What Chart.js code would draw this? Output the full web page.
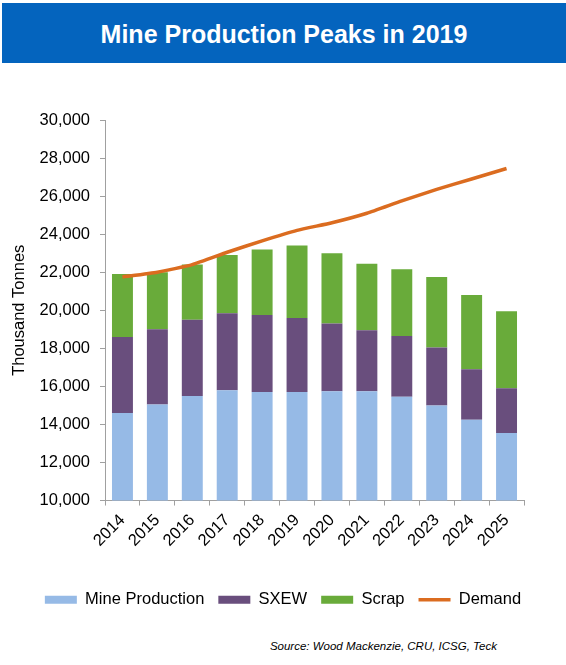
<!DOCTYPE html>
<html>
<head>
<meta charset="utf-8">
<script src="https://cdn.jsdelivr.net/npm/chart.js@4.4.1/dist/chart.umd.min.js"></script>
<style>
  body { margin: 0; background: #fff; font-family: "Liberation Sans", Arial, sans-serif; }
  #banner {
    position: absolute; left: 2px; top: 3px; width: 564px; height: 60px;
    background: #0464be; color: #fff; font-weight: bold; font-size: 25px;
    text-align: center; line-height: 62px;
  }
  #wrap { position: absolute; left: 0; top: 70px; width: 566px; height: 558px; }
  #source {
    position: absolute; right: 69px; top: 640px; font-size: 11.5px;
    font-style: italic; color: #000;
  }
</style>
</head>
<body>
<div id="banner">Mine Production Peaks in 2019</div>
<div id="wrap"><canvas id="chart" width="566" height="558"></canvas></div>
<div id="source">Source: Wood Mackenzie, CRU, ICSG, Teck</div>
<script>
// Values (thousand tonnes)
const years = ['2014', '2015', '2016', '2017', '2018', '2019', '2020', '2021', '2022', '2023', '2024', '2025'];
const mineProduction = [14600, 15050, 15500, 15800, 15700, 15700, 15750, 15750, 15450, 15000, 14250, 13550];
const sxew = [4000, 3950, 4000, 4050, 4050, 3900, 3550, 3200, 3200, 3050, 2650, 2350];
const scrap = [3300, 3000, 2900, 3050, 3450, 3800, 3700, 3500, 3500, 3700, 3900, 4050];
const demand = [21750, 22000, 22400, 23050, 23650, 24200, 24600, 25100, 25750, 26350, 26900, 27450];

const FONT = "'Liberation Sans', Arial, sans-serif";
const axisGrey = '#a0a0a0';

// legend is centred on the whole width, not on the padded box
const legendShift = {
    id: 'legendShift',
    afterLayout(chart) {
        chart.legend.left += 21;
        chart.legend.right += 21;
    }
};

const ctx = document.getElementById('chart').getContext('2d');
new Chart(ctx, {
    type: 'bar',
    data: {
        labels: years,
        datasets: [
            { label: 'Mine Production', data: mineProduction, backgroundColor: '#96bae6', borderWidth: 0, order: 1, pointStyle: 'rect' },
            { label: 'SXEW', data: sxew, backgroundColor: '#694e7d', borderWidth: 0, order: 1, pointStyle: 'rect' },
            { label: 'Scrap', data: scrap, backgroundColor: '#69ab3a', borderWidth: 0, order: 1, pointStyle: 'rect' },
            {
                label: 'Demand', data: demand, type: 'line', stack: 'demand', order: 0,
                borderColor: '#db6c20', backgroundColor: '#db6c20', borderWidth: 3.5,
                pointRadius: 0, pointStyle: 'line', tension: 0.15, fill: false
            }
        ]
    },
    options: {
        responsive: false,
        animation: false,
        layout: { padding: { top: 50, right: 42, left: 0, bottom: 10 } },
        datasets: { bar: { barPercentage: 0.6, categoryPercentage: 1 } },
        plugins: {
            tooltip: { enabled: false },
            legend: {
                position: 'bottom',
                labels: {
                    font: { family: FONT, size: 16.5 },
                    color: '#000',
                    usePointStyle: true,
                    pointStyleWidth: 32,
                    boxHeight: 8,
                    padding: 14,
                    sort: (a, b) => a.datasetIndex - b.datasetIndex
                }
            }
        },
        scales: {
            x: {
                stacked: true,
                afterFit: s => { s.height += 22; },
                grid: { drawOnChartArea: false, tickLength: 5, color: axisGrey },
                border: { color: axisGrey },
                ticks: { font: { family: FONT, size: 16.5 }, color: '#000', maxRotation: 45, minRotation: 45, padding: 5 }
            },
            y: {
                stacked: true,
                min: 10000,
                max: 30000,
                afterFit: s => { s.width = 105; },
                grid: { drawOnChartArea: false, tickLength: 5, color: axisGrey },
                border: { color: axisGrey },
                ticks: { stepSize: 2000, font: { family: FONT, size: 16.5 }, color: '#000', padding: 10 },
                title: { display: true, text: 'Thousand Tonnes', font: { family: FONT, size: 16.5 }, color: '#000', padding: { top: 10, bottom: 0 } }
            }
        }
    },
    plugins: [legendShift]
});
</script>
</body>
</html>
